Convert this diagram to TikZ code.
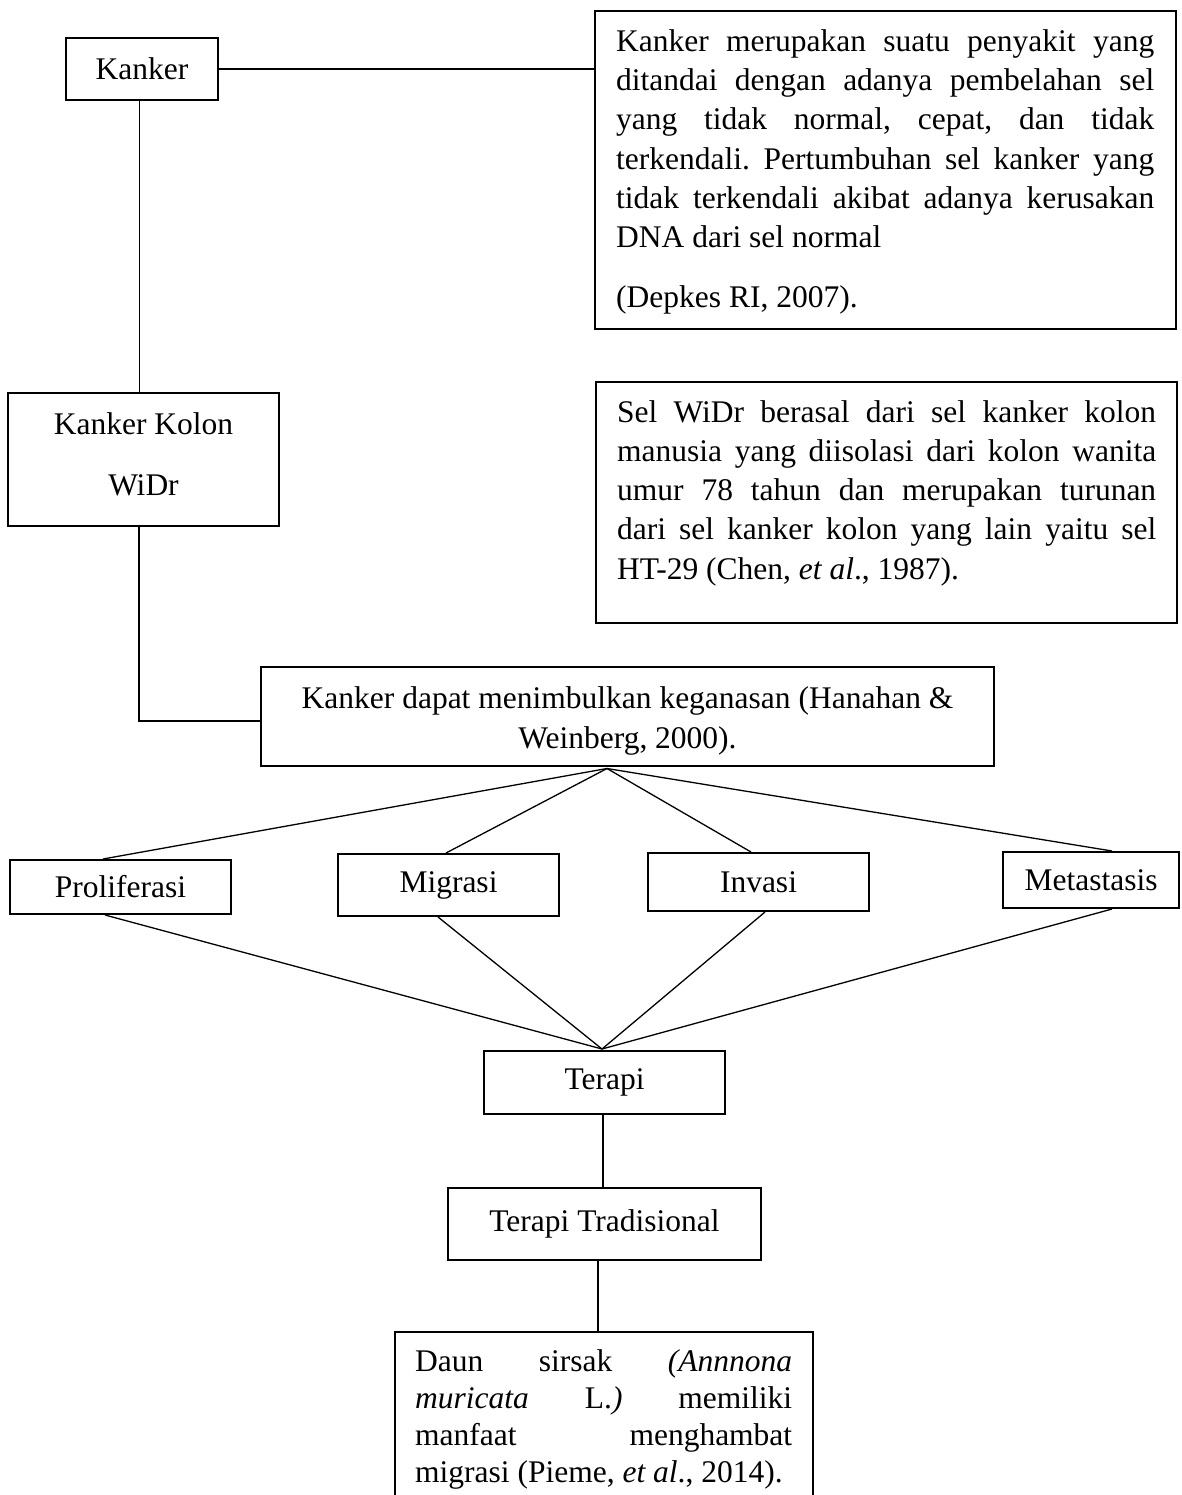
\documentclass[tikz,border=0pt]{standalone}
\usepackage{fontspec}
\setmainfont{Liberation Serif}
\usetikzlibrary{calc}
\frenchspacing
\begin{document}
\begin{tikzpicture}[x=1pt,y=-1pt,
  boxst/.style={draw, line width=2pt, inner sep=0pt, rectangle},
  conn/.style={line width=1.3pt},
  txt/.style={inner sep=0pt, font=\fontsize{31.5}{39.3}\selectfont},
]
\useasboundingbox (0,0) rectangle (1181,1495);
\clip (0,0) rectangle (1181,1495);

% boxes
\node[boxst, txt, minimum width=152pt, minimum height=62pt] (kanker) at (142,69) {Kanker};
\node[boxst, minimum width=581pt, minimum height=318pt] (box1) at (885.5,170) {};
\node[boxst, minimum width=271pt, minimum height=133pt] (kkolon) at (143.5,459.5) {};
\node[boxst, minimum width=581pt, minimum height=241pt] (box2) at (886.5,502.5) {};
\node[boxst, minimum width=733pt, minimum height=99pt] (box3) at (627.5,716.5) {};
\node[boxst, txt, minimum width=221pt, minimum height=54pt] (prol) at (120.5,887) {Proliferasi};
\node[boxst, txt, minimum width=221pt, minimum height=62pt] (migr) at (448.5,885) {Migrasi};
\node[boxst, txt, minimum width=221pt, minimum height=58pt] (inva) at (758.5,882) {Invasi};
\node[boxst, txt, minimum width=176pt, minimum height=56pt] (meta) at (1091,880) {Metastasis};
\node[boxst, txt, minimum width=241pt, minimum height=63pt] (terapi) at (604.5,1082.5) {Terapi};
\node[boxst, txt, minimum width=313pt, minimum height=72pt] (tt) at (604.5,1224) {Terapi Tradisional};
\node[boxst, minimum width=418pt, minimum height=188pt] (daun) at (604,1426) {};

% texts (base anchor = baseline of the last line)
\node[txt, align=left, anchor=base west] (t1) at (616,308) {%
\makebox[538pt][s]{Kanker merupakan suatu penyakit yang}\\
\makebox[538pt][s]{ditandai dengan adanya pembelahan sel}\\
\makebox[538pt][s]{yang tidak normal, cepat, dan tidak}\\
\makebox[538pt][s]{terkendali. Pertumbuhan sel kanker yang}\\
\makebox[538pt][s]{tidak terkendali akibat adanya kerusakan}\\
DNA dari sel normal\\[20.8pt]
(Depkes RI, 2007).};

\node[txt, font=\fontsize{31.5}{39.25}\selectfont, align=left, anchor=base west] (t2) at (617,579) {%
\makebox[539pt][s]{Sel WiDr berasal dari sel kanker kolon}\\
\makebox[539pt][s]{manusia yang diisolasi dari kolon wanita}\\
\makebox[539pt][s]{umur 78 tahun dan merupakan turunan}\\
\makebox[539pt][s]{dari sel kanker kolon yang lain yaitu sel}\\
HT-29 (Chen, \textit{et al}., 1987).};

\node[txt, font=\fontsize{31.5}{61}\selectfont, align=center, anchor=base] (t3) at (143.5,495) {Kanker Kolon\\WiDr};

\node[txt, font=\fontsize{31.5}{40}\selectfont, align=center, anchor=base] (t4) at (627.5,748) {Kanker dapat menimbulkan keganasan (Hanahan \&\\Weinberg, 2000).};

\node[txt, font=\fontsize{31.5}{36.7}\selectfont, align=left, anchor=base west] (t5) at (415,1482) {%
\makebox[377pt][s]{Daun sirsak \textit{(Annnona}}\\
\makebox[377pt][s]{\textit{muricata} L.\textit{)} memiliki}\\
\makebox[377pt][s]{manfaat menghambat}\\
migrasi (Pieme, \textit{et al}., 2014).};

% connectors
\draw[conn] (kanker.east) -- (kanker.east -| box1.west);
\draw[conn] ([xshift=-2.5pt]kanker.south) -- ([xshift=-2.5pt]kanker.south |- kkolon.north);
\draw[conn] ($(kkolon.east)+(0,10.5)$) -- ($(kkolon.east)+(0,10.5)$ -| box2.west);
\draw[conn] ([xshift=-4.5pt]kkolon.south) |- ($(box3.west)+(0,4.5)$);

\coordinate (apex) at ($(box3.south)+(-20.5,1.5)$);
\draw[conn] (apex) -- ($(prol.north)+(-17.5,0)$);
\draw[conn] (apex) -- ($(migr.north)+(-2.5,0)$);
\draw[conn] (apex) -- ($(inva.north)+(-7.5,0)$);
\draw[conn] (apex) -- ($(meta.north)+(21,0)$);

\coordinate (tin) at ($(terapi.north)+(-2.5,-1)$);
\draw[conn] ($(prol.south)+(-15.5,0)$) -- (tin);
\draw[conn] ($(migr.south)+(-10.5,0)$) -- (tin);
\draw[conn] ($(inva.south)+(6.5,0)$) -- (tin);
\draw[conn] ($(meta.south)+(21,0)$) -- (tin);

\draw[conn] ([xshift=-1.5pt]terapi.south) -- ([xshift=-1.5pt]terapi.south |- tt.north);
\draw[conn] ([xshift=-6.5pt]tt.south) -- ([xshift=-6.5pt]tt.south |- daun.north);
\end{tikzpicture}
\end{document}
